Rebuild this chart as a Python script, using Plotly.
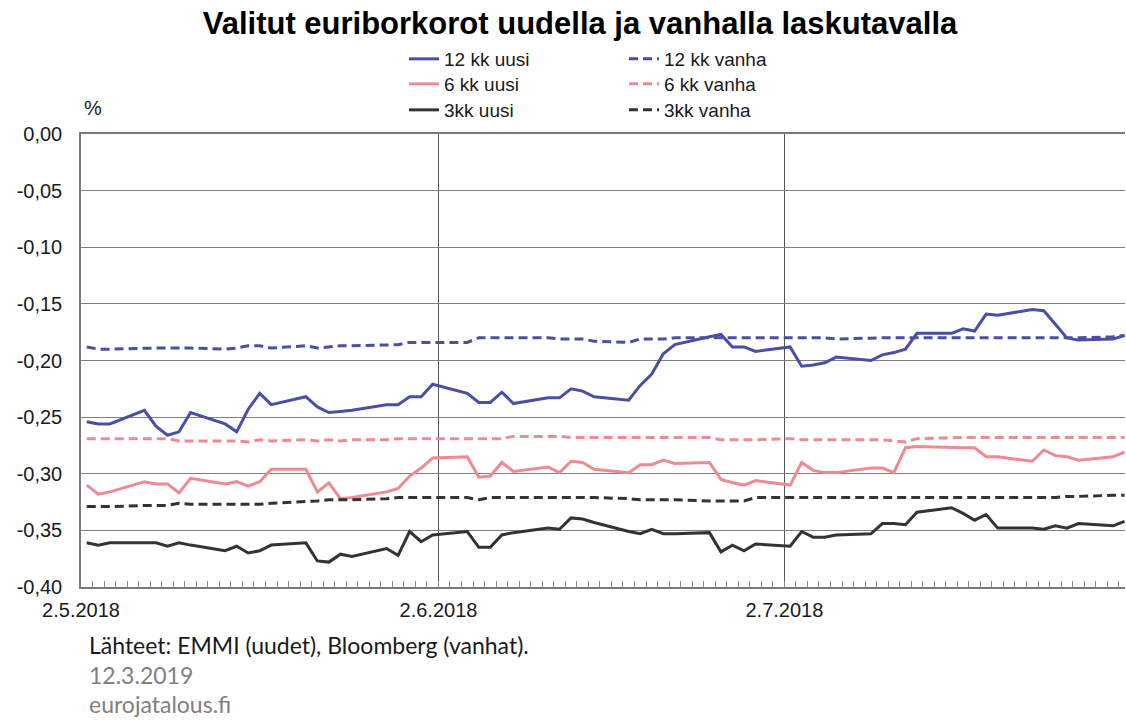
import plotly.graph_objects as go
import pandas as pd

# ---------------- data ----------------
dates = [
    "2018-05-02", "2018-05-03", "2018-05-04",
    "2018-05-07", "2018-05-08", "2018-05-09", "2018-05-10", "2018-05-11",
    "2018-05-14", "2018-05-15", "2018-05-16", "2018-05-17", "2018-05-18",
    "2018-05-21", "2018-05-22", "2018-05-23", "2018-05-24", "2018-05-25",
    "2018-05-28", "2018-05-29", "2018-05-30", "2018-05-31", "2018-06-01",
    "2018-06-04", "2018-06-05", "2018-06-06", "2018-06-07", "2018-06-08",
    "2018-06-11", "2018-06-12", "2018-06-13", "2018-06-14", "2018-06-15",
    "2018-06-18", "2018-06-19", "2018-06-20", "2018-06-21", "2018-06-22",
    "2018-06-25", "2018-06-26", "2018-06-27", "2018-06-28", "2018-06-29",
    "2018-07-02", "2018-07-03", "2018-07-04", "2018-07-05", "2018-07-06",
    "2018-07-09", "2018-07-10", "2018-07-11", "2018-07-12", "2018-07-13",
    "2018-07-16", "2018-07-17", "2018-07-18", "2018-07-19", "2018-07-20",
    "2018-07-23", "2018-07-24", "2018-07-25", "2018-07-26", "2018-07-27",
    "2018-07-30", "2018-07-31",
]

eur12_new = [
    -0.254, -0.256, -0.256,
    -0.244, -0.258, -0.266, -0.263, -0.246,
    -0.256, -0.263, -0.243, -0.229, -0.239,
    -0.232, -0.241, -0.246, -0.245, -0.244,
    -0.239, -0.239, -0.232, -0.232, -0.221,
    -0.229, -0.237, -0.237, -0.228, -0.238,
    -0.233, -0.233, -0.225, -0.227, -0.232,
    -0.235, -0.222, -0.212, -0.194, -0.186,
    -0.179, -0.177, -0.188, -0.188, -0.192,
    -0.188, -0.205, -0.204, -0.202, -0.197,
    -0.200, -0.195, -0.193, -0.190, -0.176,
    -0.176, -0.172, -0.174, -0.159, -0.160,
    -0.155, -0.156, -0.168, -0.180, -0.182,
    -0.181, -0.178,
]
eur12_old = [
    -0.188, -0.190, -0.190,
    -0.189, -0.189, -0.189, -0.189, -0.189,
    -0.190, -0.189, -0.187, -0.187, -0.189,
    -0.187, -0.189, -0.188, -0.187, -0.187,
    -0.186, -0.186, -0.184, -0.184, -0.184,
    -0.184, -0.180, -0.180, -0.180, -0.180,
    -0.180, -0.181, -0.181, -0.181, -0.183,
    -0.184, -0.181, -0.181, -0.181, -0.180,
    -0.180, -0.180, -0.180, -0.180, -0.180,
    -0.180, -0.180, -0.180, -0.180, -0.181,
    -0.180, -0.180, -0.180, -0.180, -0.180,
    -0.180, -0.180, -0.180, -0.180, -0.180,
    -0.180, -0.180, -0.180, -0.180, -0.180,
    -0.179, -0.178,
]
eur6_new = [
    -0.310, -0.318, -0.316,
    -0.307, -0.309, -0.309, -0.317, -0.304,
    -0.309, -0.307, -0.311, -0.307, -0.296,
    -0.296, -0.316, -0.308, -0.322, -0.321,
    -0.316, -0.313, -0.302, -0.295, -0.286,
    -0.285, -0.303, -0.302, -0.290, -0.298,
    -0.294, -0.299, -0.289, -0.290, -0.296,
    -0.299, -0.292, -0.292, -0.288, -0.291,
    -0.290, -0.305, -0.308, -0.310, -0.306,
    -0.310, -0.290, -0.297, -0.299, -0.299,
    -0.295, -0.295, -0.299, -0.277, -0.276,
    -0.277, -0.277, -0.277, -0.285, -0.285,
    -0.289, -0.279, -0.284, -0.285, -0.288,
    -0.285, -0.281,
]
eur6_old = [
    -0.269, -0.269, -0.269,
    -0.269, -0.269, -0.269, -0.271, -0.271,
    -0.271, -0.271, -0.272, -0.270, -0.271,
    -0.270, -0.271, -0.270, -0.271, -0.270,
    -0.270, -0.269, -0.269, -0.269, -0.269,
    -0.269, -0.269, -0.269, -0.269, -0.267,
    -0.267, -0.267, -0.268, -0.268, -0.268,
    -0.268, -0.268, -0.268, -0.268, -0.268,
    -0.268, -0.270, -0.270, -0.270, -0.270,
    -0.269, -0.270, -0.270, -0.270, -0.270,
    -0.270, -0.270, -0.271, -0.272, -0.269,
    -0.268, -0.268, -0.268, -0.268, -0.268,
    -0.268, -0.268, -0.268, -0.268, -0.268,
    -0.268, -0.268,
]
eur3_new = [
    -0.361, -0.363, -0.361,
    -0.361, -0.361, -0.364, -0.361, -0.363,
    -0.368, -0.364, -0.370, -0.368, -0.363,
    -0.361, -0.377, -0.378, -0.371, -0.373,
    -0.366, -0.372, -0.351, -0.360, -0.354,
    -0.351, -0.365, -0.365, -0.354, -0.352,
    -0.348, -0.349, -0.339, -0.340, -0.343,
    -0.351, -0.353, -0.349, -0.353, -0.353,
    -0.352, -0.369, -0.363, -0.368, -0.362,
    -0.364, -0.351, -0.356, -0.356, -0.354,
    -0.353, -0.344, -0.344, -0.345, -0.334,
    -0.330, -0.335, -0.341, -0.336, -0.348,
    -0.348, -0.349, -0.346, -0.348, -0.344,
    -0.346, -0.342,
]
eur3_old = [
    -0.329, -0.329, -0.329,
    -0.328, -0.328, -0.328, -0.326, -0.327,
    -0.327, -0.327, -0.327, -0.327, -0.326,
    -0.325, -0.324, -0.323, -0.323, -0.323,
    -0.322, -0.321, -0.321, -0.321, -0.321,
    -0.321, -0.323, -0.321, -0.321, -0.321,
    -0.321, -0.321, -0.321, -0.321, -0.321,
    -0.322, -0.323, -0.323, -0.323, -0.323,
    -0.324, -0.324, -0.324, -0.324, -0.321,
    -0.321, -0.321, -0.321, -0.321, -0.321,
    -0.321, -0.321, -0.321, -0.321, -0.321,
    -0.321, -0.321, -0.321, -0.321, -0.321,
    -0.321, -0.321, -0.321, -0.320, -0.320,
    -0.319, -0.319,
]

y_ticks = [0.0, -0.05, -0.10, -0.15, -0.20, -0.25, -0.30, -0.35, -0.40]
y_ticktext = ["0,00", "-0,05", "-0,10", "-0,15", "-0,20", "-0,25", "-0,30", "-0,35", "-0,40"]
x_ticks = ["2018-05-02", "2018-06-02", "2018-07-02"]
x_ticktext = ["2.5.2018", "2.6.2018", "2.7.2018"]

names = ["12 kk uusi", "12 kk vanha", "6 kk uusi", "6 kk vanha", "3kk uusi", "3kk vanha"]

# ---------------- styling ----------------
BLUE = "#4A4FA6"
PINK = "#EF8A90"
BLACK = "#333333"
FONT = "Liberation Sans, Arial, sans-serif"

# points are drawn in the middle of each day slot
x = pd.to_datetime(pd.Series(dates)) + pd.Timedelta(hours=12)

series = [
    (names[0], eur12_new, BLUE, "solid", "legend"),
    (names[1], eur12_old, BLUE, "9px,5px", "legend2"),
    (names[2], eur6_new, PINK, "solid", "legend3"),
    (names[3], eur6_old, PINK, "9px,5px", "legend4"),
    (names[4], eur3_new, BLACK, "solid", "legend5"),
    (names[5], eur3_old, BLACK, "9px,5px", "legend6"),
]

fig = go.Figure()
for name, vals, col, dash, lg in series:
    fig.add_trace(go.Scatter(
        x=x, y=vals, name=name, mode="lines",
        line=dict(color=col, width=3, dash=dash),
        legend=lg,
    ))

W, H = 1126, 720
ML, MR, MT, MB = 81, 1, 134, 133
pw = W - ML - MR
ph = H - MT - MB


def px_x(p):
    return (p - ML) / pw


def px_y(p):
    return (H - MB - p) / ph


legend_common = dict(
    font=dict(family=FONT, size=19, color="#1a1a1a"),
    bgcolor="rgba(0,0,0,0)", borderwidth=0,
    xref="container", yref="container",
    xanchor="left", yanchor="middle",
)
col1, col2 = 404 / W, 624 / W
rows = [1 - 59 / H, 1 - 84 / H, 1 - 110 / H]

fig.update_layout(
    width=W, height=H,
    margin=dict(l=ML, r=MR, t=MT, b=MB, autoexpand=False),
    paper_bgcolor="white", plot_bgcolor="white",
    font=dict(family=FONT, size=20, color="#1a1a1a"),
    title=dict(
        text="<b>Valitut euriborkorot uudella ja vanhalla laskutavalla</b>",
        x=580 / W, xref="container", xanchor="center",
        y=1 - 23 / H, yref="container", yanchor="middle",
        font=dict(family=FONT, size=31, color="#000000"),
    ),
    legend=dict(x=col1, y=rows[0], **legend_common),
    legend2=dict(x=col2, y=rows[0], **legend_common),
    legend3=dict(x=col1, y=rows[1], **legend_common),
    legend4=dict(x=col2, y=rows[1], **legend_common),
    legend5=dict(x=col1, y=rows[2], **legend_common),
    legend6=dict(x=col2, y=rows[2], **legend_common),
    showlegend=True,
)

fig.update_xaxes(
    type="date", automargin=False,
    range=["2018-05-02", "2018-07-31 13:00"],
    tickvals=x_ticks, ticktext=x_ticktext,
    tickfont=dict(family=FONT, size=20, color="#1a1a1a"),
    ticks="inside", ticklen=6, tickcolor="#8a8a8a", tickwidth=1,
    ticklabelstandoff=4,
    showgrid=True, gridcolor="#555555", gridwidth=1,
    showline=True, linecolor="#7a7a7a", linewidth=1.5, mirror=True,
    minor=dict(ticks="inside", ticklen=6, tickcolor="#8a8a8a", tickwidth=1,
               tickmode="linear", dtick=86400000, tick0="2018-05-02",
               showgrid=False),
    zeroline=False,
)
fig.update_yaxes(
    automargin=False,
    range=[-0.40, 0.0],
    tickvals=y_ticks, ticktext=y_ticktext,
    tickfont=dict(family=FONT, size=20, color="#1a1a1a"),
    ticks="", ticklabelstandoff=13,
    showgrid=True, gridcolor="#808080", gridwidth=1.3,
    showline=True, linecolor="#7a7a7a", linewidth=1.5,
    zeroline=False,
)

fig.add_annotation(
    text="%", xref="paper", yref="paper", x=px_x(93), y=px_y(108),
    xanchor="center", yanchor="middle", showarrow=False,
    font=dict(family=FONT, size=20, color="#1a1a1a"),
)
footer = [
    ("Lähteet: EMMI (uudet), Bloomberg (vanhat).", 645, "#1a1a1a"),
    ("12.3.2019", 675, "#808080"),
    ("eurojatalous.fi", 704, "#808080"),
]
for txt, py, col in footer:
    fig.add_annotation(
        text=txt, xref="paper", yref="paper", x=px_x(87), y=px_y(py),
        xanchor="left", yanchor="middle", showarrow=False,
        font=dict(family="Lato, Noto Sans, sans-serif", size=23, color=col),
    )

fig.write_html(
    "out.html",
    config={"displayModeBar": False},
    post_script="document.body.style.margin='0px';document.body.style.overflow='hidden';",
)
